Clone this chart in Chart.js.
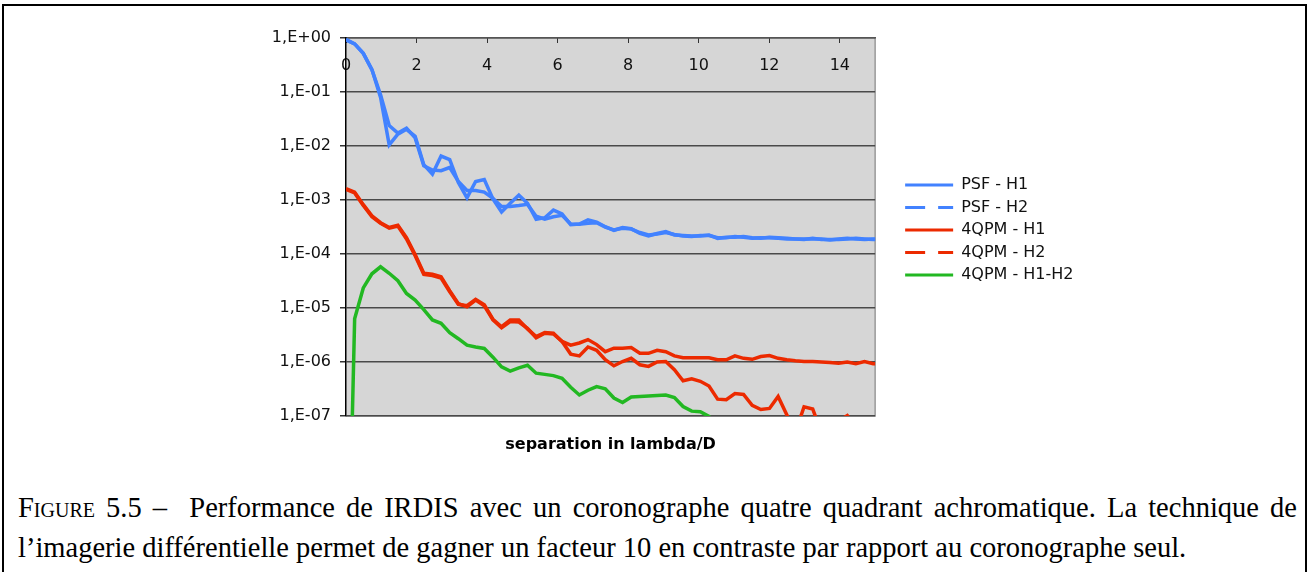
<!DOCTYPE html>
<html>
<head>
<meta charset="utf-8">
<script src="https://cdn.jsdelivr.net/npm/chart.js@4.4.1/dist/chart.umd.min.js"></script>
<style>
  body { margin: 0; background: #fff; width: 1310px; height: 572px; overflow: hidden; position: relative; }
  #frame { position: absolute; left: 2px; top: 4px; width: 1305px; height: 640px; border: 2px solid #000; box-sizing: border-box; }
  #wrap { position: absolute; left: 0; top: 0; width: 1310px; height: 470px; }
  .cap { position: absolute; left: 18px; width: 1279px; font-family: "Liberation Serif", "DejaVu Serif", serif; font-size: 28.5px; line-height: 40px; color: #000; white-space: nowrap; }
  #cap1 { top: 488px; text-align: justify; text-align-last: justify; }
  #cap2 { top: 528px; }
  .sc { font-variant: small-caps; }
</style>
</head>
<body>
<div id="frame"></div>
<div id="wrap"><canvas id="chart" width="1310" height="470"></canvas></div>
<div class="cap" id="cap1"><span class="sc">Figure</span> 5.5 –&nbsp; Performance de IRDIS avec un coronographe quatre quadrant achromatique. La technique de</div>
<div class="cap" id="cap2">l’imagerie différentielle permet de gagner un facteur 10 en contraste par rapport au coronographe seul.</div>
<script>
// separation (lambda/D) of each sample
const xPos = [0, 0.245, 0.49, 0.735, 0.98, 1.225, 1.47, 1.715, 1.96, 2.205,
  2.45, 2.695, 2.94, 3.185, 3.43, 3.675, 3.92, 4.165, 4.41, 4.655,
  4.9, 5.145, 5.39, 5.635, 5.88, 6.125, 6.37, 6.615, 6.86, 7.105,
  7.35, 7.595, 7.84, 8.085, 8.33, 8.575, 8.82, 9.065, 9.31, 9.555,
  9.8, 10.045, 10.29, 10.535, 10.78, 11.025, 11.27, 11.515, 11.76, 12.005,
  12.25, 12.495, 12.74, 12.985, 13.23, 13.475, 13.72, 13.965, 14.21, 14.455,
  14.7, 14.945, 15.19];

const psfH1 = [0.93, 0.78, 0.52, 0.26, 0.079, 0.0105, 0.0166, 0.0204, 0.0151, 0.0045,
  0.0030, 0.0065, 0.0056, 0.0021, 0.0011, 0.0022, 0.0024, 0.00105, 6.0e-4, 8.7e-4,
  1.23e-3, 8.7e-4, 4.4e-4, 4.7e-4, 6.5e-4, 5.5e-4, 3.5e-4, 3.6e-4, 4.3e-4, 3.9e-4,
  3.2e-4, 2.75e-4, 3.1e-4, 2.95e-4, 2.4e-4, 2.15e-4, 2.4e-4, 2.6e-4, 2.25e-4, 2.2e-4,
  2.15e-4, 2.15e-4, 2.25e-4, 1.95e-4, 2.05e-4, 2.05e-4, 2.1e-4, 2.0e-4, 1.95e-4, 2.05e-4,
  2.0e-4, 1.95e-4, 1.9e-4, 1.86e-4, 1.95e-4, 1.86e-4, 1.86e-4, 1.86e-4, 1.9e-4, 1.95e-4,
  1.9e-4, 1.86e-4, 1.86e-4];

const psfH2 = [0.93, 0.78, 0.52, 0.26, 0.089, 0.024, 0.0174, 0.0214, 0.0141, 0.0043,
  0.0036, 0.0035, 0.0040, 0.0022, 0.0015, 0.0015, 0.0014, 0.00107, 7.6e-4, 7.6e-4,
  7.9e-4, 8.3e-4, 5.0e-4, 4.4e-4, 4.9e-4, 5.2e-4, 3.6e-4, 3.55e-4, 3.7e-4, 3.8e-4,
  3.15e-4, 2.8e-4, 3.0e-4, 2.9e-4, 2.5e-4, 2.25e-4, 2.35e-4, 2.5e-4, 2.3e-4, 2.15e-4,
  2.1e-4, 2.2e-4, 2.2e-4, 2.0e-4, 2.0e-4, 2.1e-4, 2.05e-4, 1.95e-4, 2.0e-4, 2.0e-4,
  1.95e-4, 1.9e-4, 1.9e-4, 1.9e-4, 1.9e-4, 1.9e-4, 1.82e-4, 1.9e-4, 1.95e-4, 1.9e-4,
  1.86e-4, 1.9e-4, 1.86e-4];

const qpmH1 = [1.58e-3, 1.35e-3, 7.9e-4, 4.9e-4, 3.7e-4, 3.0e-4, 3.3e-4, 1.9e-4, 9.3e-5, 4.2e-5,
  4.0e-5, 3.6e-5, 2.0e-5, 1.17e-5, 1.1e-5, 1.45e-5, 1.15e-5, 6.2e-6, 4.5e-6, 6.0e-6,
  6.0e-6, 4.1e-6, 2.95e-6, 3.5e-6, 3.4e-6, 2.4e-6, 2.05e-6, 2.25e-6, 2.6e-6, 2.1e-6,
  1.55e-6, 1.8e-6, 1.8e-6, 1.85e-6, 1.45e-6, 1.45e-6, 1.65e-6, 1.55e-6, 1.3e-6, 1.2e-6,
  1.2e-6, 1.2e-6, 1.2e-6, 1.1e-6, 1.1e-6, 1.3e-6, 1.17e-6, 1.12e-6, 1.26e-6, 1.32e-6,
  1.17e-6, 1.1e-6, 1.05e-6, 1.02e-6, 1.02e-6, 1.0e-6, 9.8e-7, 9.5e-7, 1.0e-6, 9.3e-7,
  1.02e-6, 9.3e-7, 9.3e-7];

const qpmH2 = [1.62e-3, 1.40e-3, 8.2e-4, 5.1e-4, 3.8e-4, 3.1e-4, 3.4e-4, 2.0e-4, 9.8e-5, 4.4e-5,
  4.2e-5, 3.8e-5, 2.1e-5, 1.2e-5, 1.05e-5, 1.4e-5, 1.1e-5, 6.0e-6, 4.3e-6, 5.6e-6,
  5.5e-6, 4.2e-6, 2.8e-6, 3.4e-6, 3.3e-6, 2.4e-6, 1.4e-6, 1.3e-6, 1.9e-6, 1.65e-6,
  1.1e-6, 8.5e-7, 1.02e-6, 1.17e-6, 8.9e-7, 8.3e-7, 1.0e-6, 1.02e-6, 7.2e-7, 4.5e-7,
  4.9e-7, 4.4e-7, 3.6e-7, 2.05e-7, 2.0e-7, 2.6e-7, 2.5e-7, 1.58e-7, 1.32e-7, 1.38e-7,
  2.3e-7, 1.05e-7, 5e-8, 1.48e-7, 1.35e-7, 5e-8, 4e-8, 8e-8, 1.02e-7, 6.3e-8,
  5e-8, 5.6e-8, 5e-8];

const qpmDiff = [1e-12, 6.3e-6, 2.35e-5, 4.3e-5, 5.8e-5, 4.4e-5, 3.2e-5, 1.86e-5, 1.4e-5, 9.3e-6,
  6.0e-6, 5.2e-6, 3.5e-6, 2.7e-6, 2.05e-6, 1.9e-6, 1.78e-6, 1.23e-6, 8.1e-7, 6.8e-7,
  7.8e-7, 8.7e-7, 6.2e-7, 5.9e-7, 5.6e-7, 5.0e-7, 3.4e-7, 2.45e-7, 3.0e-7, 3.5e-7,
  3.2e-7, 2.15e-7, 1.78e-7, 2.25e-7, 2.3e-7, 2.35e-7, 2.4e-7, 2.45e-7, 2.2e-7, 1.5e-7,
  1.23e-7, 1.2e-7, 9.8e-8, 6.3e-8];

const xTicks = [0, 2, 4, 6, 8, 10, 12, 14];
const yTicks = [1e-7, 1e-6, 1e-5, 1e-4, 1e-3, 1e-2, 1e-1, 1];

const seriesNames = ['PSF - H1', 'PSF - H2', '4QPM - H1', '4QPM - H2', '4QPM - H1-H2'];
const seriesData = [psfH1, psfH2, qpmH1, qpmH2, qpmDiff];
const seriesColors = ['#4282ff', '#4282ff', '#ec2a00', '#ec2a00', '#22b822'];
const legendDashed = [false, true, false, true, false];

const PLOT_RIGHT = 875;
const LEGEND_GAP = 23.5;
const LEG_PAD = 6.5;
const LEG_LINE = 48;
const tickFont = { family: 'DejaVu Sans', size: 16 };

// legend box width as Chart.js computes it: padding + line + half font + text + 10
const meas = document.createElement('canvas').getContext('2d');
meas.font = '16px "DejaVu Sans"';
const textW = Math.max(...seriesNames.map(t => meas.measureText(t).width));
const legendW = Math.ceil(LEG_PAD + LEG_LINE + 8 + textW + 10);
const padRight = 1310 - PLOT_RIGHT - LEGEND_GAP - legendW;

const pts = arr => arr.map((v, i) => ({ x: xPos[i], y: v }));

function expLabel(v) {
  const e = Math.round(Math.log10(v));
  return '1,E' + (e < 0 ? '-' : '+') + String(Math.abs(e)).padStart(2, '0');
}

// grey plot background + light frame on right/bottom
const plotBg = {
  id: 'plotBg',
  beforeDraw(chart) {
    const { ctx, chartArea: a } = chart;
    ctx.save();
    ctx.fillStyle = '#d6d6d6';
    ctx.fillRect(a.left, a.top, a.right - a.left, a.bottom - a.top);
    ctx.strokeStyle = '#9a9a9a';
    ctx.lineWidth = 1.5;
    ctx.beginPath();
    ctx.moveTo(a.right, a.top);
    ctx.lineTo(a.right, a.bottom);
    ctx.lineTo(a.left, a.bottom);
    ctx.stroke();
    ctx.restore();
  }
};

new Chart(document.getElementById('chart'), {
  type: 'line',
  data: {
    datasets: seriesNames.map((name, i) => ({
      label: name,
      data: pts(seriesData[i]),
      borderColor: seriesColors[i],
      backgroundColor: seriesColors[i],
      borderWidth: 3.5,
      pointRadius: 0,
      tension: 0,
      fill: false
    }))
  },
  options: {
    responsive: false,
    animation: false,
    devicePixelRatio: 1,
    layout: { padding: { left: 266, top: 38, right: padRight, bottom: 14 } },
    scales: {
      x: {
        type: 'linear', position: 'top', min: 0, max: 15,
        afterBuildTicks: s => { s.ticks = xTicks.map(v => ({ value: v })); },
        afterFit: s => { s.height = 0; },
        ticks: { mirror: true, padding: 18, color: '#111', font: tickFont, autoSkip: false, maxRotation: 0 },
        grid: { drawOnChartArea: false, drawTicks: true, tickLength: -5, color: '#333', lineWidth: 1 },
        border: { display: true, color: '#555', width: 1.5 }
      },
      x2: {
        type: 'linear', position: 'bottom', display: true, min: 0, max: 15,
        ticks: { display: false },
        grid: { display: false, drawTicks: false },
        border: { display: false },
        title: { display: true, text: 'separation in lambda/D', color: '#000', font: { family: 'DejaVu Sans', size: 16, weight: 'bold' }, padding: { top: 0, bottom: 2 } },
        afterFit: s => { s.height = 40; }
      },
      y: {
        type: 'logarithmic', position: 'left', min: 1e-7, max: 1,
        afterBuildTicks: s => { s.ticks = yTicks.map(v => ({ value: v })); },
        afterFit: s => { s.width = 80; },
        ticks: { callback: v => expLabel(v), padding: 9, color: '#111', font: tickFont, autoSkip: false },
        grid: { color: '#4a4a4a', lineWidth: 1.5, tickLength: 6, tickColor: '#333' },
        border: { color: '#000', width: 1.5 }
      },
      yr: {
        type: 'linear', position: 'right', display: true,
        ticks: { display: false },
        grid: { display: false, drawTicks: false },
        border: { display: false },
        afterFit: s => { s.width = LEGEND_GAP; }
      }
    },
    plugins: {
      tooltip: { enabled: false },
      legend: {
        position: 'right',
        fullSize: false,
        maxWidth: legendW,
        title: { display: true, text: ' ', padding: 0, font: { size: 5 } },
        labels: {
          usePointStyle: true,
          pointStyle: 'line',
          pointStyleWidth: LEG_LINE,
          padding: LEG_PAD,
          color: '#111',
          font: tickFont,
          generateLabels(chart) {
            const items = Chart.defaults.plugins.legend.labels.generateLabels(chart);
            items.forEach((it, i) => {
              it.lineWidth = 3;
              it.lineDash = legendDashed[i] ? [20, 13, 17, 100] : [];
            });
            return items;
          }
        }
      }
    }
  },
  plugins: [plotBg]
});
</script>
</body>
</html>
